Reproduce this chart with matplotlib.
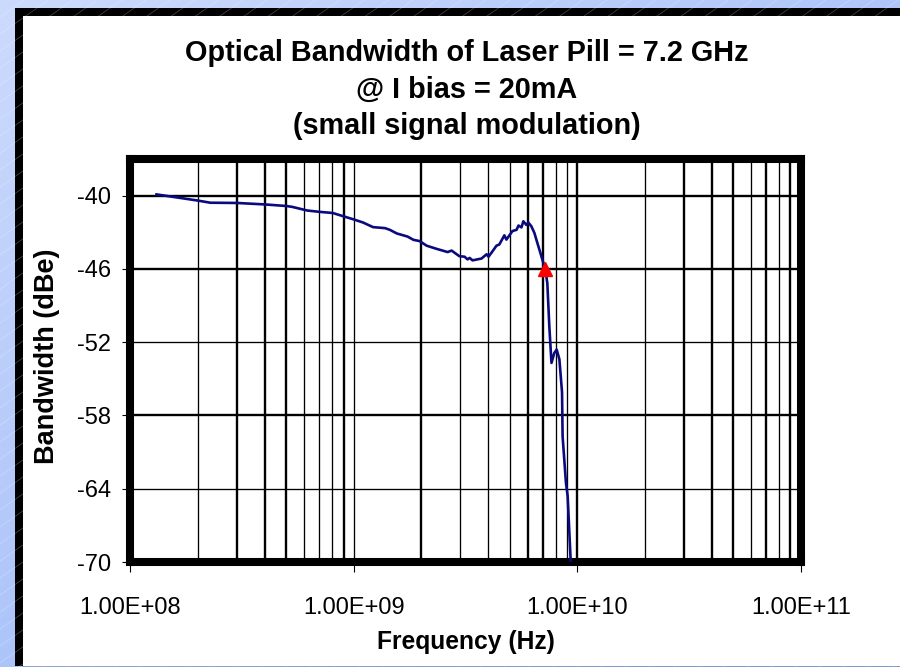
import numpy as np
import matplotlib
matplotlib.use("Agg")
import matplotlib.pyplot as plt
from matplotlib.patches import Rectangle

plt.rcParams['font.family'] = ['Liberation Sans', 'DejaVu Sans']

# Measured small-signal response of the laser pill
freq_hz = [1.31e8, 2.0e8, 2.28e8, 3.0e8, 4.0e8, 5.0e8, 5.3e8, 6.2e8, 7.05e8,
           8.05e8, 8.66e8, 1.0e9, 1.1e9, 1.22e9, 1.38e9, 1.45e9, 1.56e9,
           1.74e9, 1.85e9, 1.97e9, 2.12e9, 2.35e9, 2.63e9, 2.74e9, 2.97e9,
           3.13e9, 3.23e9, 3.3e9, 3.4e9, 3.73e9, 3.93e9, 4.01e9, 4.18e9,
           4.35e9, 4.48e9, 4.72e9, 4.82e9, 5.13e9, 5.35e9, 5.46e9, 5.63e9,
           5.74e9, 5.92e9, 6.04e9, 6.23e9, 6.43e9, 6.63e9, 6.91e9, 7.05e9,
           7.2e9, 7.35e9, 7.5e9, 7.67e9, 7.89e9, 8.09e9, 8.32e9, 8.55e9,
           8.6e9, 8.9e9, 9.06e9, 9.38e9]
response_dbe = [-39.9, -40.4, -40.58, -40.6, -40.72, -40.85, -40.92, -41.22,
                -41.33, -41.42, -41.6, -41.95, -42.2, -42.58, -42.66, -42.8,
                -43.1, -43.35, -43.62, -43.72, -44.1, -44.36, -44.62, -44.5,
                -44.96, -45.0, -45.22, -45.1, -45.3, -45.15, -44.8, -45.0,
                -44.55, -44.1, -44.0, -43.25, -43.6, -42.9, -42.8, -42.45,
                -42.6, -42.1, -42.4, -42.2, -42.5, -43.05, -43.87, -44.96,
                -45.5, -46.0, -47.2, -50.7, -53.7, -52.9, -52.6, -53.4,
                -56.1, -59.7, -63.5, -64.6, -70.5]

# Bandwidth point
bw_freq = [7.2e9]
bw_level = [-46.0]

y_ticks = [-40, -46, -52, -58, -64, -70]
x_ticks = [1e8, 1e9, 1e10, 1e11]
x_tick_labels = ["1.00E+08", "1.00E+09", "1.00E+10", "1.00E+11"]

title_lines = ["Optical Bandwidth of Laser Pill = 7.2 GHz",
               "@ I bias = 20mA",
               "(small signal modulation)"]

W, H = 900, 667
fig = plt.figure(figsize=(W / 100, H / 100), dpi=100)

# ---- slide-style backdrop: blue gradient with faint diagonal streaks ----
bg = fig.add_axes([0, 0, 1, 1], zorder=0)
bg.set_xlim(0, W)
bg.set_ylim(H, 0)
bg.axis('off')
yy, xx = np.mgrid[0:H, 0:W]
t = np.clip(0.55 * xx / W + 0.6 * yy / H, 0, 1)[..., None]
c0 = np.array([204, 218, 253]) / 255
c1 = np.array([152, 182, 246]) / 255
bg.imshow(c0 + (c1 - c0) * t, extent=(0, W, H, 0), aspect='auto')
slope = np.tan(np.radians(35))
for c in np.arange(0, W + H * 2, 17):
    xs = np.array([-10, W + 10])
    bg.plot(xs, c - xs * slope, color='white', lw=0.5, alpha=0.3)

# white panel with heavy black frame
bg.add_patch(Rectangle((23, 16), W, 650, facecolor='white', edgecolor='none'))
bg.add_patch(Rectangle((15, 8), 8, 658, facecolor='black', edgecolor='none'))
bg.add_patch(Rectangle((15, 8), W, 8, facecolor='black', edgecolor='none'))
bg.plot([23, W], [666.5, 666.5], color='#222222', lw=1.0)

# ---- chart ----
left, right, top, bottom = 130.3, 800.7, 159, 562
ax = fig.add_axes([left / W, (H - bottom) / H, (right - left) / W, (bottom - top) / H],
                  zorder=2)
ax.set_facecolor('white')
ax.set_xscale('log')
ax.set_xlim(1e8, 1e11)
ax.set_ylim(-70, -37)

# grid lines (the source rendering alternates heavier/lighter strokes)
heavy, light = 1.7, 0.95
vgrid_w = {2: light, 3: heavy, 4: heavy, 5: heavy, 6: light, 7: light, 8: light, 9: heavy}
vgrid_w2 = {2: heavy, 3: light, 4: light, 5: light, 6: heavy, 7: heavy, 8: light, 9: light}
vgrid_w3 = {2: light, 3: heavy, 4: heavy, 5: heavy, 6: light, 7: heavy, 8: light, 9: heavy}
for dec, widths in zip([1e8, 1e9, 1e10], [vgrid_w, vgrid_w2, vgrid_w3]):
    for m in range(2, 10):
        ax.axvline(m * dec, color='black', lw=widths[m], zorder=1)
for xv, lw in zip([1e9, 1e10], [light, heavy]):
    ax.axvline(xv, color='black', lw=lw, zorder=1)
for yv, lw in zip([-40, -46, -52, -58, -64], [heavy, heavy, light, heavy, light]):
    ax.axhline(yv, color='black', lw=lw, zorder=1)

ax.plot(freq_hz, response_dbe, color='#0a0a80', lw=1.9, zorder=3)
ax.plot(bw_freq, bw_level, marker='^', markersize=9.5, color='#ff0000',
        linestyle='none', zorder=4, clip_on=False)

for sp in ax.spines.values():
    sp.set_linewidth(5.8)
    sp.set_color('black')

ax.set_yticks(y_ticks)
ax.set_yticklabels([str(v) for v in y_ticks])
ax.set_xticks(x_ticks)
ax.set_xticklabels(x_tick_labels)
ax.xaxis.set_minor_locator(matplotlib.ticker.NullLocator())
ax.tick_params(axis='y', direction='out', length=6, width=0.8, pad=8,
               labelsize=17, colors='black')
ax.tick_params(axis='x', direction='out', length=7.5, width=0.8, pad=17.5,
               labelsize=17, colors='black')

ax.set_xlabel("Frequency (Hz)", fontsize=17.7, fontweight='bold', labelpad=8)
ax.set_ylabel("Bandwidth (dBe)", fontsize=19.5, fontweight='bold')
ax.yaxis.set_label_coords(-0.105, 0.51)

# three-line centred title
cx = 466.5 / W
for line, base in zip(title_lines, [61, 98, 134]):
    fig.text(cx, (H - base) / H, line, ha='center', va='baseline',
             fontsize=20.8, fontweight='bold', color='black', zorder=5)

fig.savefig("out.png", dpi=100)
